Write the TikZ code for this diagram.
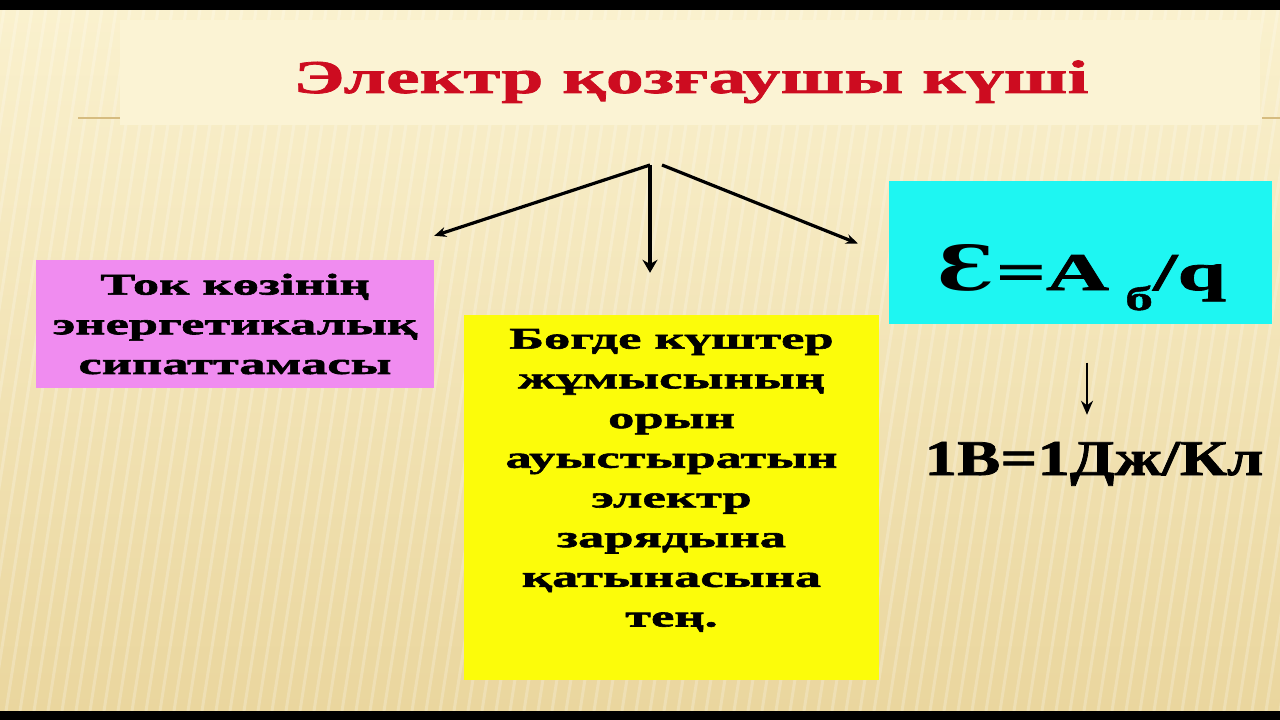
\documentclass[tikz,border=0pt]{standalone}
\usepackage{fontspec}
\setmainfont{Liberation Serif}
\newfontfamily\titlefont{Liberation Serif Bold}[FakeStretch=1.61,FakeBold=1.6]
\newfontfamily\boxfont{Liberation Serif Bold}[FakeStretch=1.75,FakeBold=2]
\newfontfamily\formulafont{Liberation Serif Bold}[FakeStretch=1.65,FakeBold=1.5]
\newfontfamily\unitfont{Liberation Serif Bold}[FakeStretch=1.3,FakeBold=1.5]
\newfontfamily\epsfont{DejaVu Serif Bold}[FakeStretch=1.3]
\usetikzlibrary{arrows.meta,positioning,calc}

\definecolor{slidered}{RGB}{205,12,32}
\definecolor{boxpink}{RGB}{240,140,240}
\definecolor{boxyellow}{RGB}{252,252,10}
\definecolor{boxcyan}{RGB}{30,246,242}
\definecolor{bgtop}{RGB}{250,241,206}
\definecolor{bgbottom}{RGB}{234,214,158}
\definecolor{bandcolor}{RGB}{251,243,212}
\definecolor{rulegold}{RGB}{214,188,128}

\begin{document}
\begin{tikzpicture}[x=1bp,y=-1bp,>={Stealth[length=12bp,width=10bp]},
                    box/.style={inner sep=0pt,align=center},
                    boxtext/.style={font=\boxfont\fontsize{30bp}{39.7bp}\selectfont,align=center,inner sep=0pt},
                    branch/.style={->,line width=3.2bp}]
\useasboundingbox (0,0) rectangle (1280,720);

% background of the slide
\shade[top color=bgtop,bottom color=bgbottom] (0,10) rectangle (1280,711);
\foreach \s in {-400,-386,...,1280}
  \draw[white,opacity=0.22,line width=3bp] (\s,711) -- (\s+110,10);
\fill[bandcolor] (120,20) rectangle (1260,125);
\draw[rulegold,line width=1.2bp] (78,118) -- (120,118) (1262,118) -- (1280,118);
\fill[black] (0,0) rectangle (1280,10) (0,711) rectangle (1280,720);

% title
\node[anchor=base,inner sep=0pt,text=slidered,font=\titlefont\fontsize{47bp}{50bp}\selectfont] (title) at (691,93) {Электр қозғаушы күші};

% the three boxes
\node[box,fill=boxpink,minimum width=398bp,minimum height=128bp,
      font=\boxfont\fontsize{30bp}{39.7bp}\selectfont] (source) at (235,324)
      {Ток көзінің\\энергетикалық\\сипаттамасы};
\node[box,fill=boxyellow,minimum width=415bp,minimum height=365bp] (work) at (671.5,497.5) {};
\node[boxtext,below=14bp of work.north] (worktext)
      {Бөгде күштер\\жұмысының\\орын\\ауыстыратын\\электр\\зарядына\\қатынасына\\тең.};
\node[box,fill=boxcyan,minimum width=383bp,minimum height=142bp] (emf) at (1080.5,252.5) {};
\node[anchor=base,inner sep=0pt,font=\formulafont\fontsize{53bp}{56bp}\selectfont] (formula) at (1082,290)
      {{\epsfont\fontsize{62bp}{62bp}\selectfont Ɛ}=A\hspace{16bp}\raisebox{-20bp}{\fontsize{34bp}{34bp}\selectfont б}/q};
\node[anchor=base,inner sep=0pt,font=\unitfont\fontsize{50bp}{54bp}\selectfont] (unit) at (1094,475) {1В=1Дж/Кл};

% arrows
\coordinate (fork) at (650,165);
\coordinate[right=12bp of fork] (forkr);
\coordinate (tosource) at ($(source.north east)+(0,-24)$);
\coordinate (towork) at ($(work.north)+(-21.5,-42)$);
\coordinate (toemf) at ($(emf.west)+(-31,-9)$);
\coordinate (unitarrow) at ($(emf.south)+(6.5,39)$);

\draw[branch] (fork) -- (tosource);
\draw[branch,line width=4bp,-{Stealth[length=13bp,width=15bp]}] (fork) -- (towork);
\draw[branch] (forkr) -- (toemf);
\draw[line width=2.6bp,-{Stealth[length=14bp,width=12bp]},shorten >=27bp]
  (unitarrow) -- (unitarrow |- unit.north);
\end{tikzpicture}
\end{document}
